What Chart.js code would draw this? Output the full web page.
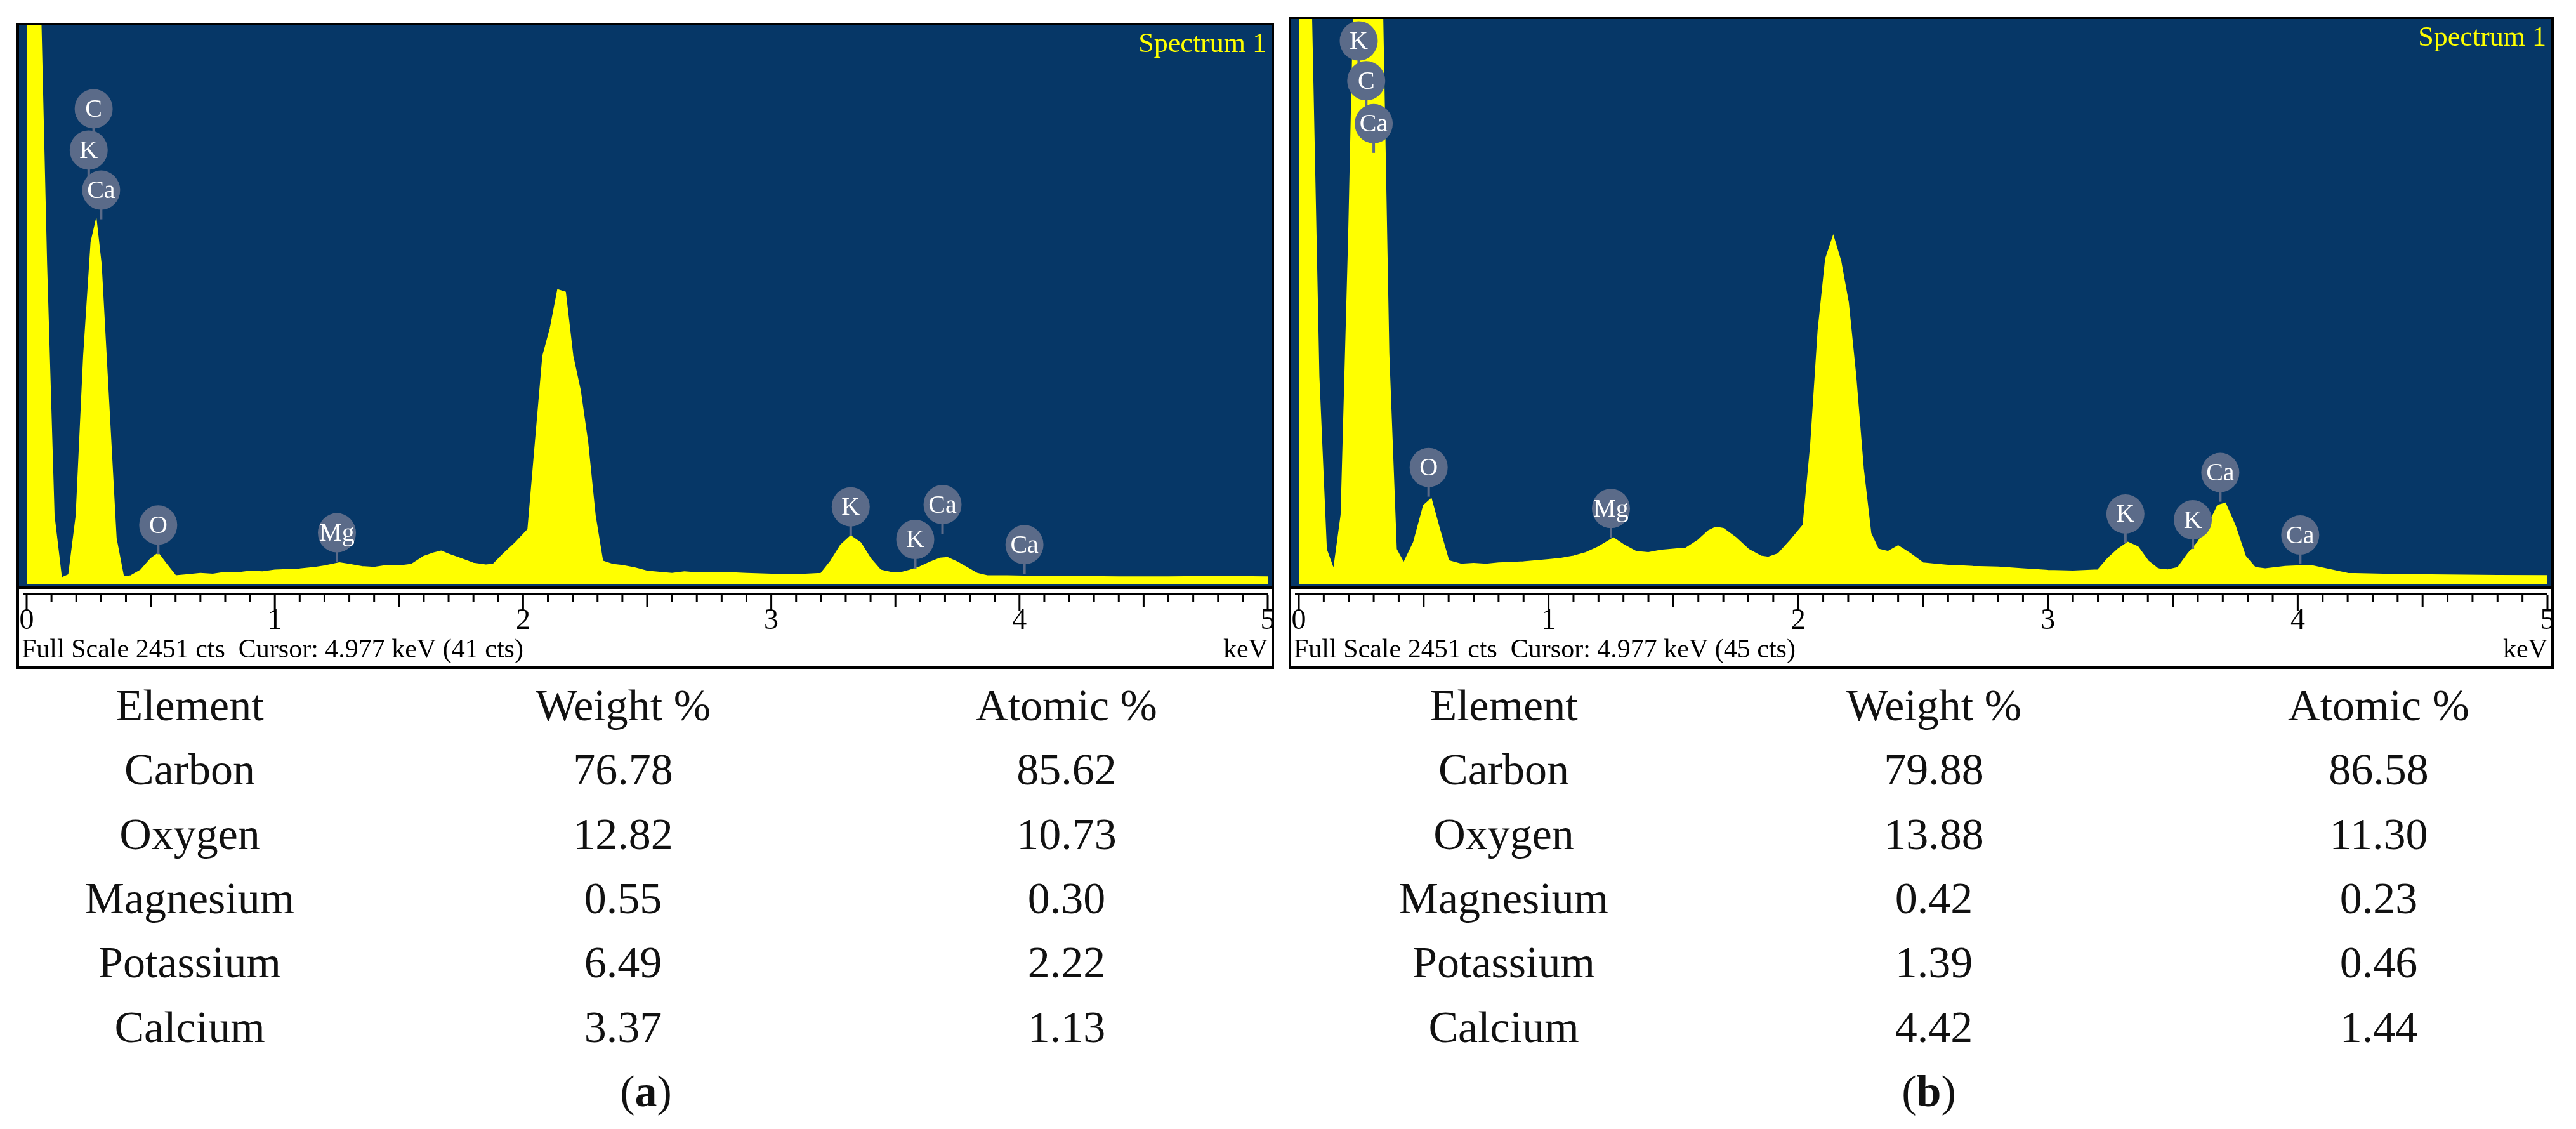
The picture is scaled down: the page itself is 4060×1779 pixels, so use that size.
<!DOCTYPE html>
<html><head><meta charset="utf-8">
<script src="https://cdn.jsdelivr.net/npm/chart.js@4/dist/chart.umd.min.js"></script>
<style>
body{margin:0;width:4060px;height:1779px;background:#fff;position:relative;font-family:"Liberation Serif",serif;overflow:hidden}
.frame{position:absolute;border:4px solid #000;box-sizing:border-box;background:#fff}
.frame canvas{position:absolute;left:0;top:0}
.t{position:absolute;font-size:70px;transform:translate(-50%,-50%);white-space:nowrap;color:#111}
</style></head><body>
<div class="frame" id="fa" style="left:26px;top:36px;width:1982px;height:1018px"><canvas id="ca"></canvas></div>
<div class="frame" id="fb" style="left:2031px;top:26px;width:1994px;height:1028px"><canvas id="cb"></canvas></div>
<div id="tables"></div>
<script>
const energy = [0,0.03,0.05,0.08,0.11,0.14,0.17,0.2,0.23,0.26,0.28,0.30,0.33,0.36,0.39,0.42,0.46,0.5,0.53,0.56,0.6,0.65,0.7,0.75,0.8,0.85,0.9,0.95,1.0,1.05,1.1,1.15,1.2,1.26,1.3,1.35,1.4,1.45,1.5,1.55,1.6,1.64,1.67,1.7,1.75,1.8,1.85,1.88,1.92,1.97,2.02,2.05,2.08,2.11,2.14,2.17,2.2,2.23,2.26,2.29,2.32,2.36,2.4,2.45,2.5,2.55,2.6,2.65,2.7,2.8,2.9,3.0,3.1,3.2,3.24,3.28,3.32,3.36,3.4,3.44,3.48,3.52,3.56,3.6,3.64,3.68,3.71,3.75,3.79,3.83,3.87,3.95,4.05,4.2,4.4,4.6,4.8,5.0]
const countsA = [3000,3000,2800,1400,300,25,40,300,1000,1500,1595,1400,800,200,30,35,60,110,134,90,35,40,45,42,50,48,55,52,60,62,65,70,78,92,85,75,72,80,78,85,120,135,143,130,110,90,82,86,130,181,239,621,1000,1121,1290,1280,1000,850,621,300,100,85,80,70,55,50,45,52,48,50,45,42,40,45,100,170,210,180,110,60,50,48,60,75,95,112,115,95,70,45,35,35,33,32,30,30,32,30]
const countsB = [3000,3000,2500,900,150,60,300,1500,3000,3000,3000,3000,2800,1000,150,90,180,340,369,250,100,85,88,85,90,92,95,100,105,110,120,135,160,199,170,140,135,145,150,155,190,230,246,240,200,150,120,115,130,190,255,600,1100,1410,1508,1400,1221,900,500,220,150,140,165,130,90,85,80,78,75,72,65,58,55,60,110,150,180,160,100,65,60,70,130,180,250,340,350,250,120,70,65,75,80,45,40,38,36,35]
const labelTextA = ['C','K','Ca','O','Mg','K','K','Ca','Ca']
const labelXA = [0.27,0.25,0.30,0.53,1.25,3.32,3.58,3.69,4.02]
const labelYA = [2085,1904,1728,258,224,338,195,348,172]
const labelTextB = ['K','C','Ca','O','Mg','K','K','Ca','Ca']
const labelXB = [0.24,0.27,0.30,0.52,1.25,3.31,3.58,3.69,4.01]
const labelYB = [2356,2183,1997,505,327,303,278,483,212]
const cursorA = 'Full Scale 2451 cts  Cursor: 4.977 keV (41 cts)'
const cursorB = 'Full Scale 2451 cts  Cursor: 4.977 keV (45 cts)'
const rowsElement = ['Element','Carbon','Oxygen','Magnesium','Potassium','Calcium']
const rowsWeightA = ['Weight %','76.78','12.82','0.55','6.49','3.37']
const rowsAtomicA = ['Atomic %','85.62','10.73','0.30','2.22','1.13']
const rowsWeightB = ['Weight %','79.88','13.88','0.42','1.39','4.42']
const rowsAtomicB = ['Atomic %','86.58','11.30','0.23','0.46','1.44']

const spectrumPlugin = {
  id: 'spectrum',
  beforeDraw(chart) {
    const { ctx, chartArea: a, width } = chart
    ctx.save()
    ctx.fillStyle = '#063767'
    ctx.fillRect(0, 0, width, a.bottom + 4)
    ctx.restore()
  },
  afterDraw(chart, args, opts) {
    const { ctx, chartArea: a, width } = chart
    const xs = chart.scales.x, ys = chart.scales.y
    ctx.save()
    // axis strip
    ctx.fillStyle = '#000'
    ctx.fillRect(0, a.bottom + 4, width, 4)
    ctx.fillRect(6, a.bottom + 14, width - 12, 3)
    for (let i = 0; i <= 50; i++) {
      const v = i / 10, px = xs.getPixelForValue(v)
      const len = i % 10 === 0 ? 26 : (i % 5 === 0 ? 20 : 12)
      ctx.fillRect(px - 1.5, a.bottom + 17, 3, len)
    }
    ctx.font = '46px "Liberation Serif"'
    ctx.textAlign = 'center'
    ctx.textBaseline = 'top'
    for (let k = 0; k <= 5; k++) ctx.fillText(String(k), xs.getPixelForValue(k), a.bottom + 36)
    ctx.textAlign = 'left'
    ctx.font = '42px "Liberation Serif"'
    ctx.fillText(opts.cursor, 4, a.bottom + 84)
    ctx.textAlign = 'right'
    ctx.fillText('keV', width - 6, a.bottom + 84)
    ctx.fillStyle = '#ffff00'
    ctx.font = '44px "Liberation Serif"'
    ctx.fillText('Spectrum 1', width - 8, 8)
    // element markers
    ctx.textAlign = 'center'
    ctx.textBaseline = 'middle'
    ctx.font = '40px "Liberation Serif"'
    opts.text.forEach((t, i) => {
      const px = xs.getPixelForValue(opts.x[i]), py = ys.getPixelForValue(opts.y[i])
      ctx.fillStyle = '#5b6b89'
      ctx.fillRect(px - 2, py + 24, 4, 22)
      ctx.beginPath()
      ctx.ellipse(px, py, 30, 31, 0, 0, Math.PI * 2)
      ctx.fill()
      ctx.fillStyle = '#fff'
      ctx.fillText(t, px, py + 2)
    })
    ctx.restore()
  }
}

function makeSpectrum(id, frame, counts, labels) {
  const f = document.getElementById(frame)
  const c = document.getElementById(id)
  c.style.width = (f.clientWidth) + 'px'
  c.style.height = (f.clientHeight) + 'px'
  return new Chart(c, {
    type: 'line',
    data: { datasets: [{
      data: energy.map((e, i) => ({ x: e, y: counts[i] })),
      borderColor: '#ffff00', backgroundColor: '#ffff00',
      borderWidth: 2, pointRadius: 0, fill: 'origin', tension: 0
    }] },
    options: {
      responsive: false, animation: false,
      layout: { padding: { left: 12, right: 6, top: 0, bottom: 130 } },
      plugins: { legend: { display: false }, tooltip: { enabled: false }, spectrum: labels },
      scales: {
        x: { type: 'linear', min: 0, max: 5, display: false },
        y: { min: 0, max: 2451, display: false }
      }
    },
    plugins: [spectrumPlugin]
  })
}
makeSpectrum('ca', 'fa', countsA, { text: labelTextA, x: labelXA, y: labelYA, cursor: cursorA })
makeSpectrum('cb', 'fb', countsB, { text: labelTextB, x: labelXB, y: labelYB, cursor: cursorB })

const rowY = [1112, 1213, 1315, 1416, 1517, 1619]
function table(cols, xs) {
  const box = document.getElementById('tables')
  cols.forEach((col, ci) => col.forEach((txt, ri) => {
    const d = document.createElement('div')
    d.className = 't'
    d.style.left = xs[ci] + 'px'
    d.style.top = rowY[ri] + 'px'
    d.textContent = txt
    box.appendChild(d)
  }))
}
table([rowsElement, rowsWeightA, rowsAtomicA], [299, 982, 1681])
table([rowsElement, rowsWeightB, rowsAtomicB], [2370, 3048, 3749])
const capA = document.createElement('div'); capA.className = 't'
capA.style.left = '1018px'; capA.style.top = '1720px'; capA.innerHTML = '(<b>a</b>)'
const capB = document.createElement('div'); capB.className = 't'
capB.style.left = '3040px'; capB.style.top = '1720px'; capB.innerHTML = '(<b>b</b>)'
document.body.appendChild(capA); document.body.appendChild(capB)
</script>
</body></html>
